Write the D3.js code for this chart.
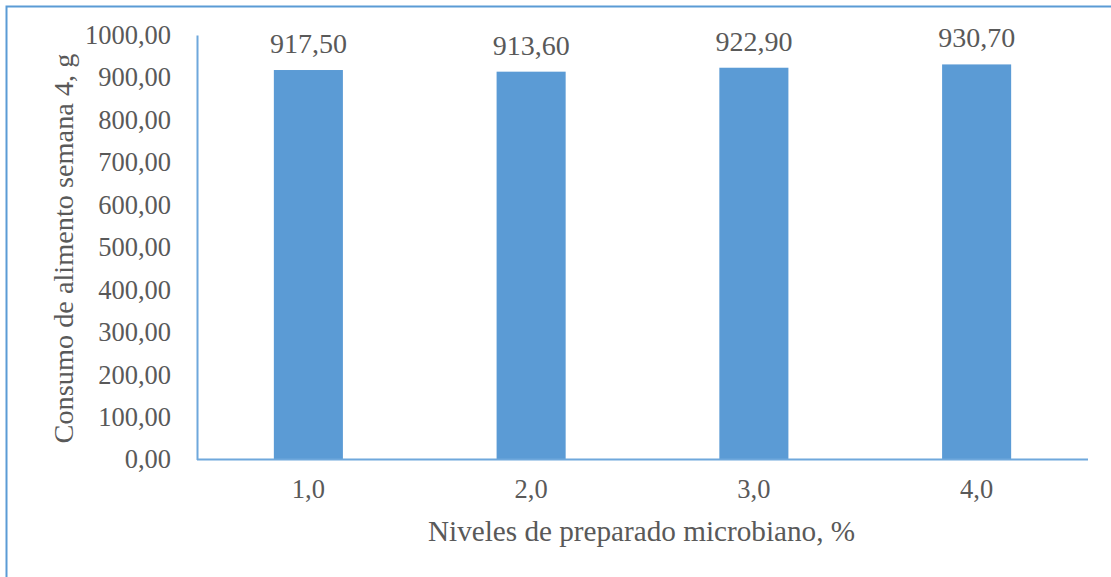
<!DOCTYPE html>
<html>
<head>
<meta charset="utf-8">
<script src="https://cdn.jsdelivr.net/npm/d3@7"></script>
<style>
  html, body { margin: 0; padding: 0; background: #fff; }
  svg { display: block; }
  svg text { font-family: "Times New Roman", "Liberation Serif", Times, serif; fill: #595959; }
</style>
</head>
<body>
<svg id="chart" width="1111" height="577"></svg>
<script>
// Feed intake in week 4 by level of microbial preparation
const categories = ["1,0", "2,0", "3,0", "4,0"];
const consumo = [917.50, 913.60, 922.90, 930.70];
const yTicks = [0, 100, 200, 300, 400, 500, 600, 700, 800, 900, 1000];

const W = 1111, H = 577;
const margin = { left: 197, right: 23, top: 35, bottom: 117.5 };
const FONT = "'Times New Roman', 'Liberation Serif', Times, serif";
const fmt = v => v.toFixed(2).replace(".", ",");

const svg = d3.select("#chart");

// chart-area frame (only top and left edges fall inside the canvas)
svg.append("rect")
  .attr("x", 6.5).attr("y", 6.5)
  .attr("width", W + 20).attr("height", H + 20)
  .attr("fill", "none").attr("stroke", "#5B9BD5").attr("stroke-width", 2);

const x = d3.scaleBand()
  .domain(categories)
  .range([margin.left, W - margin.right])
  .paddingInner(0.69).paddingOuter(0.345);

const y = d3.scaleLinear()
  .domain([0, 1000])
  .range([H - margin.bottom, margin.top]);

// bars
svg.append("g").selectAll("rect")
  .data(consumo)
  .join("rect")
  .attr("x", (d, i) => x(categories[i]))
  .attr("width", x.bandwidth())
  .attr("y", d => y(d))
  .attr("height", d => y(0) - y(d))
  .attr("fill", "#5B9BD5");

// value labels
svg.append("g").selectAll("text")
  .data(consumo)
  .join("text")
  .attr("x", (d, i) => x(categories[i]) + x.bandwidth() / 2)
  .attr("y", d => y(d) - 17)
  .attr("text-anchor", "middle")
  .attr("font-family", FONT)
  .attr("font-size", 28)
  .text(d => fmt(d));

// y axis
const yAxis = svg.append("g")
  .attr("transform", `translate(${margin.left},0)`)
  .call(d3.axisLeft(y).tickValues(yTicks).tickSize(0).tickPadding(26).tickFormat(fmt));
yAxis.attr("font-family", FONT);
yAxis.select(".domain").attr("stroke", "#6FA8DC").attr("stroke-width", 2);
yAxis.selectAll("text")
  .attr("font-size", 26.5)
  .attr("fill", "#595959");

// x axis
const xAxis = svg.append("g")
  .attr("transform", `translate(0,${y(0)})`)
  .call(d3.axisBottom(x).tickSize(0).tickPadding(20));
xAxis.attr("font-family", FONT);
xAxis.select(".domain").attr("stroke", "#6FA8DC").attr("stroke-width", 2)
  .attr("d", `M${margin.left},0H${W - margin.right}`);
xAxis.selectAll("text")
  .attr("font-size", 26.5)
  .attr("fill", "#595959");

// axis titles
svg.append("text")
  .attr("x", 641.5)
  .attr("y", 541)
  .attr("text-anchor", "middle")
  .attr("font-family", FONT)
  .attr("font-size", 29.2)
  .text("Niveles de preparado microbiano, %");

svg.append("text")
  .attr("transform", "translate(73,248.5) rotate(-90)")
  .attr("text-anchor", "middle")
  .attr("font-family", FONT)
  .attr("font-size", 28.3)
  .text("Consumo de alimento semana 4, g");
</script>
</body>
</html>
